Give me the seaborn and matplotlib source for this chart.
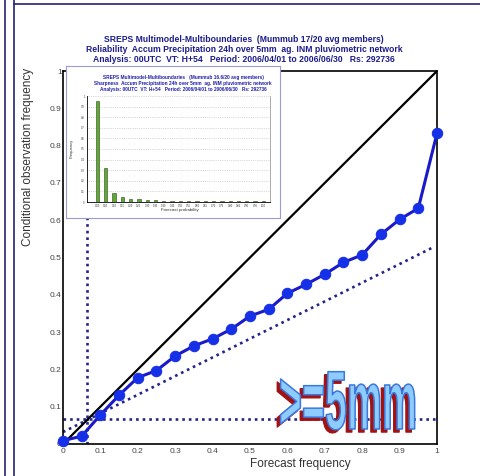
import numpy as np
import pandas as pd
import matplotlib
matplotlib.use("Agg")
import matplotlib.pyplot as plt
import seaborn as sns
from matplotlib import patheffects
from matplotlib.transforms import Affine2D
from matplotlib.lines import Line2D
from matplotlib.colors import to_rgba

# ---------------- data ----------------
forecast_freq = [0.00, 0.05, 0.10, 0.15, 0.20, 0.25, 0.30, 0.35, 0.40, 0.45, 0.50,
                 0.55, 0.60, 0.65, 0.70, 0.75, 0.80, 0.85, 0.90, 0.95, 1.00]
obs_freq = [0.009, 0.021, 0.078, 0.131, 0.178, 0.197, 0.236, 0.263, 0.282, 0.308, 0.343,
            0.361, 0.404, 0.428, 0.455, 0.487, 0.507, 0.562, 0.602, 0.632, 0.833]
diag_x = [0.0, 1.0]
diag_y = [0.0, 1.0]
noskill_x = [0.0, 0.985]
noskill_y = [0.032, 0.525]
clim_obs = 0.066
clim_fc = 0.064
x_ticks = [0.0, 0.1, 0.2, 0.3, 0.4, 0.5, 0.6, 0.7, 0.8, 0.9, 1.0]
x_ticklabels = ["0", "0.1", "0.2", "0.3", "0.4", "0.5", "0.6", "0.7", "0.8", "0.9", "1"]
y_ticklabels = ["0", "0.1", "0.2", "0.3", "0.4", "0.5", "0.6", "0.7", "0.8", "0.9", "1"]

sharp_prob = ["0.00", "0.05", "0.10", "0.15", "0.20", "0.25", "0.30", "0.35", "0.40", "0.45", "0.50",
              "0.55", "0.60", "0.65", "0.70", "0.75", "0.80", "0.85", "0.90", "0.95", "1.00"]
sharp_freq = [0.955, 0.324, 0.082, 0.047, 0.030, 0.025, 0.020, 0.016, 0.013, 0.012, 0.010,
              0.009, 0.009, 0.008, 0.007, 0.007, 0.006, 0.006, 0.005, 0.005, 0.005]
inset_yticks = [0.0, 0.1, 0.2, 0.3, 0.4, 0.5, 0.6, 0.7, 0.8, 0.9, 1.0]

title_lines = ["SREPS Multimodel-Multiboundaries  (Mummub 17/20 avg members)",
               "Reliability  Accum Precipitation 24h over 5mm  ag. INM pluviometric network",
               "Analysis: 00UTC  VT: H+54   Period: 2006/04/01 to 2006/06/30   Rs: 292736"]
inset_title_lines = ["SREPS Multimodel-Multiboundaries   (Mummub 16.6/20 avg members)",
                     "Sharpness  Accum Precipitation 24h over 5mm  ag. INM pluviometric network",
                     "Analysis: 00UTC  VT: H+54   Period: 2006/04/01 to 2006/06/30   Rs: 292736"]
threshold_label = ">=5mm"

# ---------------- layout helpers ----------------
W, H = 481, 476
def fx(px):
    return px / W
def fy(py):
    return 1 - py / H

sns.set_theme(style="white")
plt.rcParams["font.family"] = ["Liberation Sans", "DejaVu Sans"]

fig = plt.figure(figsize=(W / 100, H / 100), dpi=100)
fig.patch.set_facecolor("white")

# ---------------- main reliability axes ----------------
ax = fig.add_axes([fx(63), fy(444), (437 - 63) / W, (444 - 71) / H])
ax.set_facecolor("white")
dot_col = "#23238a"
ax.plot(diag_x, diag_y, color="black", lw=1.6, zorder=3)
ax.plot(noskill_x, noskill_y, color=dot_col, lw=1.9, ls=(0, (1, 1.5)), zorder=2)
ax.plot([0, 1], [clim_obs, clim_obs], color=dot_col, lw=1.9, ls=(0, (1, 1.5)), zorder=2)
ax.plot([clim_fc, clim_fc], [0, 1], color=dot_col, lw=1.9, ls=(0, (1, 1.5)), zorder=2)

df = pd.DataFrame({"forecast": forecast_freq, "observed": obs_freq})
sns.lineplot(data=df, x="forecast", y="observed", ax=ax, color="#1a1ac8", lw=2.2,
             marker="o", markersize=7.5, markerfacecolor="#1530e6",
             markeredgecolor="#1530e6", clip_on=False, zorder=5)

ax.set_xlim(0, 1)
ax.set_ylim(0, 1)
ax.set_xticks(x_ticks)
ax.set_xticklabels(x_ticklabels)
ax.set_yticks(x_ticks)
ax.set_yticklabels(y_ticklabels)
ax.tick_params(axis="both", length=0, labelsize=6, labelcolor="#444444")
ax.tick_params(axis="x", pad=3)
ax.tick_params(axis="y", pad=1)
for s in ax.spines.values():
    s.set_color("black")
    s.set_linewidth(1.2)
ax.grid(False)

ax.set_xlabel("Forecast frequency", fontsize=8.5, color="#333333")
ax.set_ylabel("Conditional observation frequency", fontsize=8.5, color="#333333")
ax.xaxis.label.set_va("center")
ax.yaxis.label.set_va("center")
ax.xaxis.set_label_coords((300 - 63) / 374, -(464 - 444) / 373)
ax.yaxis.set_label_coords((28 - 63) / 374, (444 - 157) / 373)

# ---------------- titles ----------------
title_col = "#1c1c8c"
for i, line in enumerate(title_lines):
    fig.text(fx(244), fy(40 + 10 * i), line, ha="center", va="center",
             fontsize=6.2, fontweight="bold", color=title_col, zorder=2)

# ---------------- inset (sharpness) ----------------
box = fig.add_axes([fx(66), fy(218), (280 - 66) / W, (218 - 66) / H])
box.set_zorder(3)
box.set_facecolor("white")
box.set_xticks([])
box.set_yticks([])
for s in box.spines.values():
    s.set_color("#9c9cd2")
    s.set_linewidth(0.8)

ins = fig.add_axes([fx(87), fy(202), (270 - 87) / W, (202 - 96) / H])
ins.set_zorder(4)
ins.set_facecolor("none")
sns.barplot(x=sharp_prob, y=sharp_freq, ax=ins, color="#5ea833", saturation=1,
            edgecolor="#2c4a1c", linewidth=0.4, width=0.4)
ins.set_xlim(-1.25, 20.8)
ins.set_ylim(0, 1)
ins.set_yticks(inset_yticks)
ins.set_yticklabels(y_ticklabels)
ins.yaxis.grid(True, linestyle=":", color="#b5b5b5", lw=0.5)
ins.set_axisbelow(True)
ins.tick_params(axis="both", length=1, width=0.3, labelsize=1.9, pad=0.6, labelcolor="#333333")
ins.spines["top"].set_visible(False)
ins.spines["left"].set_color("black")
ins.spines["left"].set_linewidth(0.6)
ins.spines["bottom"].set_color("black")
ins.spines["bottom"].set_linewidth(0.6)
ins.spines["right"].set_color("#8a8a8a")
ins.spines["right"].set_linewidth(0.5)
ins.set_xlabel("Forecast probability", fontsize=3.2, color="#333333")
ins.set_ylabel("Frequency", fontsize=3.0, color="#333333")
ins.xaxis.label.set_va("center")
ins.yaxis.label.set_va("center")
ins.xaxis.set_label_coords((180 - 87) / 183, -(210.5 - 202) / 106)
ins.yaxis.set_label_coords((72 - 87) / 183, (202 - 148) / 106)

for i, line in enumerate(inset_title_lines):
    fig.text(fx(183), fy(78 + 6 * i), line, ha="center", va="center",
             fontsize=3.4, fontweight="bold", color="#1e1eaa", zorder=6)

# ---------------- ">=5mm" word-art label ----------------
class Squeeze(patheffects.AbstractPathEffect):
    """Draw text path scaled about an anchor (x0, y0) in display pixels."""
    def __init__(self, sx, sy, x0, y0, offset=(0, 0), face=None, **gc_kw):
        super().__init__(offset)
        self.sx, self.sy, self.x0, self.y0 = sx, sy, x0, y0
        self.face = to_rgba(face) if face is not None else None
        self.gc_kw = gc_kw

    def draw_path(self, renderer, gc, tpath, affine, rgbFace=None):
        gc0 = renderer.new_gc()
        gc0.copy_properties(gc)
        gc0 = self._update_gc(gc0, self.gc_kw)
        sq = (Affine2D().translate(-self.x0, -self.y0)
              .scale(self.sx, self.sy).translate(self.x0, self.y0))
        renderer.draw_path(gc0, tpath, affine + sq + self._offset_transform(renderer),
                           self.face if self.face is not None else rgbFace)
        gc0.restore()

cx_px, base_px = 348, 429          # centre x and baseline of the label (pixels from top-left)
fs = 40
sxx, syy = 0.71, 1.5
x0d, y0d = cx_px, H - base_px
fig.text(fx(cx_px), fy(base_px), threshold_label, ha="center", va="baseline", fontsize=fs,
         fontweight="bold", color="#8ecbff", zorder=10,
         path_effects=[Squeeze(sxx, syy, x0d, y0d, offset=(-2.4, -2.2), face="#a31212",
                               foreground="#a31212", linewidth=1.0),
                       Squeeze(sxx, syy, x0d, y0d, face="#8ecbff", foreground="#3a78dc",
                               linewidth=1.1)])

# ---------------- page borders ----------------
bcol = "#24246e"
fig.add_artist(Line2D([fx(5), fx(5)], [0, 1], transform=fig.transFigure, color=bcol, lw=1.2))
fig.add_artist(Line2D([fx(14), fx(14)], [0, 1], transform=fig.transFigure, color=bcol, lw=1.2))
fig.add_artist(Line2D([fx(14), 1], [fy(4), fy(4)], transform=fig.transFigure, color=bcol, lw=1.2))

fig.savefig("out.png", dpi=100)
